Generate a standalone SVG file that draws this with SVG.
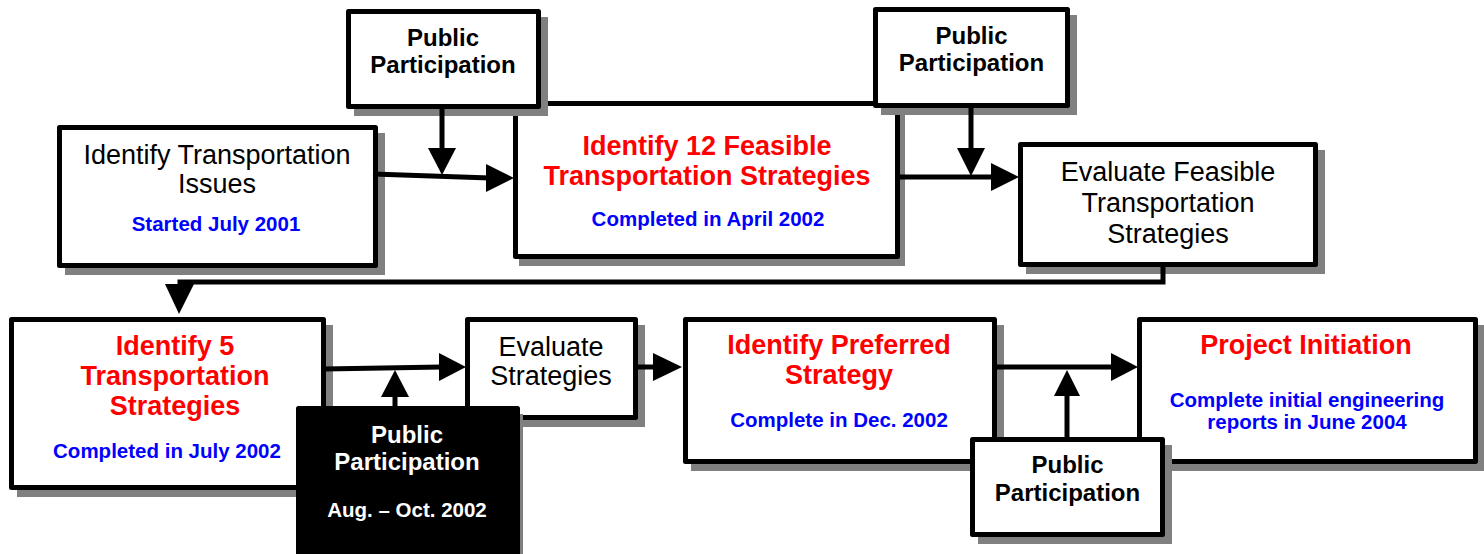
<svg xmlns="http://www.w3.org/2000/svg" width="1484" height="554" viewBox="0 0 1484 554">
<style>
.box{fill:#fff;stroke:#000;stroke-width:5;stroke-linejoin:round}
.blk{fill:#000;stroke:#000;stroke-width:5;stroke-linejoin:round}
.sh{fill:#808080}
.reg{font-family:"Liberation Sans",Arial,sans-serif;font-size:27px;fill:#000;text-anchor:middle}
.red{font-family:"Liberation Sans",Arial,sans-serif;font-size:27px;font-weight:bold;fill:#ff0000;text-anchor:middle}
.blue{font-family:"Liberation Sans",Arial,sans-serif;font-size:20.5px;font-weight:bold;fill:#0000ff;text-anchor:middle}
.pp{font-family:"Liberation Sans",Arial,sans-serif;font-size:24px;font-weight:bold;fill:#000;text-anchor:middle}
.ppw{font-family:"Liberation Sans",Arial,sans-serif;font-size:24px;font-weight:bold;fill:#fff;text-anchor:middle}
.ppws{font-family:"Liberation Sans",Arial,sans-serif;font-size:20.5px;font-weight:bold;fill:#fff;text-anchor:middle}
.ln{fill:none;stroke:#000;stroke-width:5}
.ah{fill:#000}
</style>

<g id="node-issues">
<rect class="sh" x="65" y="133" width="320" height="142"/>
<rect class="box" x="59.5" y="127.5" width="316" height="138"/>
<text class="reg" x="217" y="164">Identify Transportation</text>
<text class="reg" x="217" y="193">Issues</text>
<text class="blue" x="216" y="231">Started July 2001</text>
</g>

<g id="node-identify12">
<rect class="sh" x="519" y="109" width="386" height="157"/>
<rect class="box" x="515.5" y="103.5" width="382" height="153"/>
<text class="red" x="707" y="155">Identify 12 Feasible</text>
<text class="red" x="707" y="185">Transportation Strategies</text>
<text class="blue" x="708" y="226">Completed in April 2002</text>
</g>

<g id="node-pp1">
<rect class="sh" x="354" y="17" width="194" height="99"/>
<rect class="box" x="348.5" y="11.5" width="190" height="95"/>
<text class="pp" x="443" y="46">Public</text>
<text class="pp" x="443" y="73">Participation</text>
</g>

<g id="node-pp2">
<rect class="sh" x="881" y="15" width="196" height="100"/>
<rect class="box" x="875.5" y="9.5" width="192" height="96"/>
<text class="pp" x="971.5" y="44">Public</text>
<text class="pp" x="971.5" y="71">Participation</text>
</g>

<g id="node-evalfeasible">
<rect class="sh" x="1026" y="150" width="299" height="124"/>
<rect class="box" x="1020.5" y="144.5" width="295" height="120"/>
<text class="reg" x="1168" y="181">Evaluate Feasible</text>
<text class="reg" x="1168" y="212">Transportation</text>
<text class="reg" x="1168" y="243">Strategies</text>
</g>

<g id="node-identify5">
<rect class="sh" x="17" y="325" width="316" height="172"/>
<rect class="box" x="11.5" y="319.5" width="312" height="168"/>
<text class="red" x="175" y="355">Identify 5</text>
<text class="red" x="175" y="385">Transportation</text>
<text class="red" x="175" y="415">Strategies</text>
<text class="blue" x="167" y="458">Completed in July 2002</text>
</g>

<g id="node-evalstrat">
<rect class="sh" x="473" y="325" width="172" height="102"/>
<rect class="box" x="467.5" y="319.5" width="168" height="98"/>
<text class="reg" x="551" y="356">Evaluate</text>
<text class="reg" x="551" y="385">Strategies</text>
</g>

<g id="node-preferred">
<rect class="sh" x="691" y="325" width="313" height="146"/>
<rect class="box" x="685.5" y="319.5" width="309" height="142"/>
<text class="red" x="839" y="354">Identify Preferred</text>
<text class="red" x="839" y="384">Strategy</text>
<text class="blue" x="839" y="427">Complete in Dec. 2002</text>
</g>

<g id="node-initiation">
<rect class="sh" x="1145" y="325" width="340" height="146"/>
<rect class="box" x="1139.5" y="319.5" width="336" height="142"/>
<text class="red" x="1306" y="354">Project Initiation</text>
<text class="blue" x="1307" y="407">Complete initial engineering</text>
<text class="blue" x="1307" y="429">reports in June 2004</text>
</g>

<g id="connectors">
<polyline class="ln" points="373,174 490,178"/>
<polygon class="ah" points="486,164 514,178 486,192"/>
<line class="ln" x1="442" y1="106" x2="442" y2="150"/>
<polygon class="ah" points="428,148 456,148 442,175"/>
<line class="ln" x1="898" y1="177" x2="994" y2="177"/>
<polygon class="ah" points="991,163 1019,177 991,191"/>
<line class="ln" x1="971" y1="106" x2="971" y2="150"/>
<polygon class="ah" points="957,148 985,148 971,176"/>
<polyline class="ln" points="1163,265 1163,282 180,282 180,287"/>
<polygon class="ah" points="165,284 194,284 179,314"/>
<polyline class="ln" points="324,369 442,367"/>
<polygon class="ah" points="439,353 466,367 439,381"/>
<line class="ln" x1="395" y1="408" x2="395" y2="394"/>
<polygon class="ah" points="381,397 409,397 395,370"/>
<line class="ln" x1="636" y1="367" x2="656" y2="367"/>
<polygon class="ah" points="653,353 682,367 653,381"/>
<line class="ln" x1="995" y1="367" x2="1113" y2="367"/>
<polygon class="ah" points="1111,353 1138,367 1111,381"/>
<line class="ln" x1="1067" y1="438" x2="1067" y2="394"/>
<polygon class="ah" points="1054,396 1080,396 1067,370"/>
</g>

<g id="node-pp-black">
<rect class="sh" x="304" y="414" width="219" height="160"/>
<rect class="blk" x="298.5" y="408.5" width="219" height="160"/>
<text class="ppw" x="407" y="443">Public</text>
<text class="ppw" x="407" y="470">Participation</text>
<text class="ppws" x="407" y="517">Aug. – Oct. 2002</text>
</g>

<g id="node-pp3">
<rect class="sh" x="978" y="445" width="194" height="99"/>
<rect class="box" x="972.5" y="439.5" width="190" height="95"/>
<text class="pp" x="1067.5" y="473">Public</text>
<text class="pp" x="1067.5" y="501">Participation</text>
</g>
</svg>
